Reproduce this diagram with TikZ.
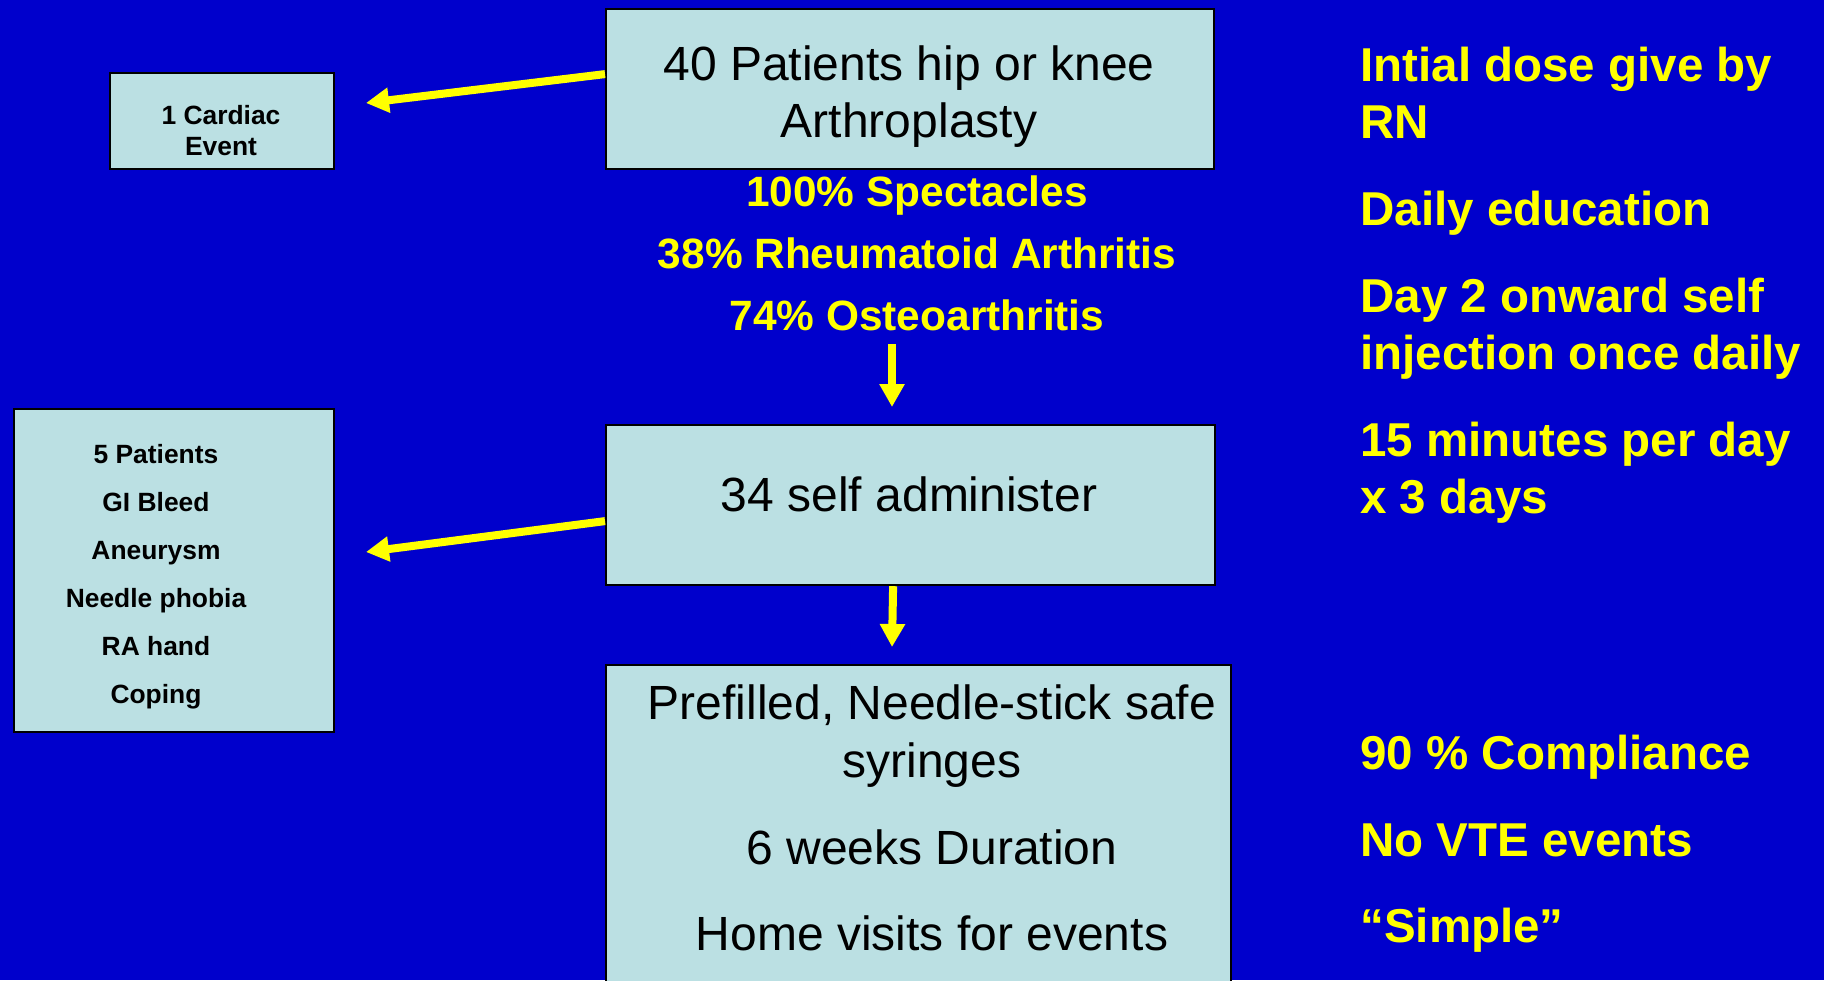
\documentclass[tikz,border=0pt]{standalone}
\usepackage{fontspec}
\setmainfont{Liberation Sans}
\usetikzlibrary{arrows.meta}
\definecolor{bgblue}{HTML}{0000CC}
\definecolor{boxfill}{HTML}{BBE0E3}
\definecolor{ylw}{HTML}{FFFF00}
\begin{document}
\begin{tikzpicture}[x=0.5pt,y=-0.5pt,
  box/.style={draw=black,line width=1.1pt,fill=boxfill,inner sep=0pt,anchor=north west},
  bigtxt/.style={anchor=base,font=\fontsize{24}{29}\selectfont,text=black,inner sep=0pt},
  smalltxt/.style={anchor=base,font=\fontsize{13.2}{16}\selectfont\bfseries,text=black,inner sep=0pt},
  midtxt/.style={anchor=base,font=\fontsize{21.2}{26}\selectfont\bfseries,text=ylw,inner sep=0pt},
  sidetxt/.style={anchor=base west,font=\fontsize{23.75}{28.5}\selectfont\bfseries,text=ylw,inner sep=0pt},
  yarrow/.style={draw=ylw,line width=4pt,-{Triangle[width=12pt,length=11.5pt]}}]
\useasboundingbox (0,0) rectangle (1824,980);
\clip (0,0) rectangle (1824,980);
\fill[bgblue] (0,0) rectangle (1824,980);

% boxes
\node[box,minimum width=304pt,minimum height=80pt] (top) at (605,8) {};
\node[box,minimum width=112pt,minimum height=48pt] (card) at (109,72) {};
\node[box,minimum width=304.5pt,minimum height=80pt] (mid) at (605,424) {};
\node[box,minimum width=160pt,minimum height=161.5pt] (left) at (13,408) {};
\node[box,minimum width=312.5pt,minimum height=170pt] (bot) at (605,664) {};

% top box text
\node[bigtxt] (t1) at (909,80) {40 Patients hip or knee};
\node[bigtxt] (t2) at (909,137) {Arthroplasty};

% cardiac
\node[smalltxt] (c1) at (221,124) {1 Cardiac};
\node[smalltxt] (c2) at (221,155) {Event};

% yellow middle
\node[midtxt] (y1) at (917,206) {100\% Spectacles};
\node[midtxt] (y2) at (917,268) {38\% Rheumatoid Arthritis};
\node[midtxt] (y3) at (917,330) {74\% Osteoarthritis};

% middle box
\node[bigtxt] (m1) at (909,511) {34 self administer};

% left box
\node[smalltxt] (l1) at (156,463) {5 Patients};
\node[smalltxt] (l2) at (156,511) {GI Bleed};
\node[smalltxt] (l3) at (156,559) {Aneurysm};
\node[smalltxt] (l4) at (156,607) {Needle phobia};
\node[smalltxt] (l5) at (156,655) {RA hand};
\node[smalltxt] (l6) at (156,703) {Coping};

% bottom box
\node[bigtxt] (b1) at (932,719) {Prefilled, Needle-stick safe};
\node[bigtxt] (b2) at (932,777) {syringes};
\node[bigtxt] (b3) at (932,864) {6 weeks Duration};
\node[bigtxt] (b4) at (932,950) {Home visits for events};

% right side
\node[sidetxt] (r1) at (1360,81) {Intial dose give by};
\node[sidetxt] (r2) at (1360,138) {RN};
\node[sidetxt] (r3) at (1360,225) {Daily education};
\node[sidetxt] (r4) at (1360,312) {Day 2 onward self};
\node[sidetxt] (r5) at (1360,369) {injection once daily};
\node[sidetxt] (r6) at (1360,456) {15 minutes per day};
\node[sidetxt] (r7) at (1360,513) {x 3 days};
\node[sidetxt] (r8) at (1360,769) {90 \% Compliance};
\node[sidetxt] (r9) at (1360,856) {No VTE events};
\node[sidetxt] (r10) at (1360,942) {“Simple”};

% arrow end points
\coordinate (tipA) at (366,103);
\coordinate (tipB) at (366,552);
\coordinate (d1s) at (892,344);
\coordinate (d1e) at (892,407);
\coordinate (d2e) at (892,647);

% connectors
\draw[yarrow] ([yshift=7.5pt]top.west) -- (tipA);
\draw[yarrow] ([yshift=-8pt]mid.west) -- (tipB);
\draw[yarrow] (d1s) -- (d1e);
\draw[yarrow] ([xshift=-8.75pt]mid.south) -- (d2e);
\end{tikzpicture}
\end{document}
